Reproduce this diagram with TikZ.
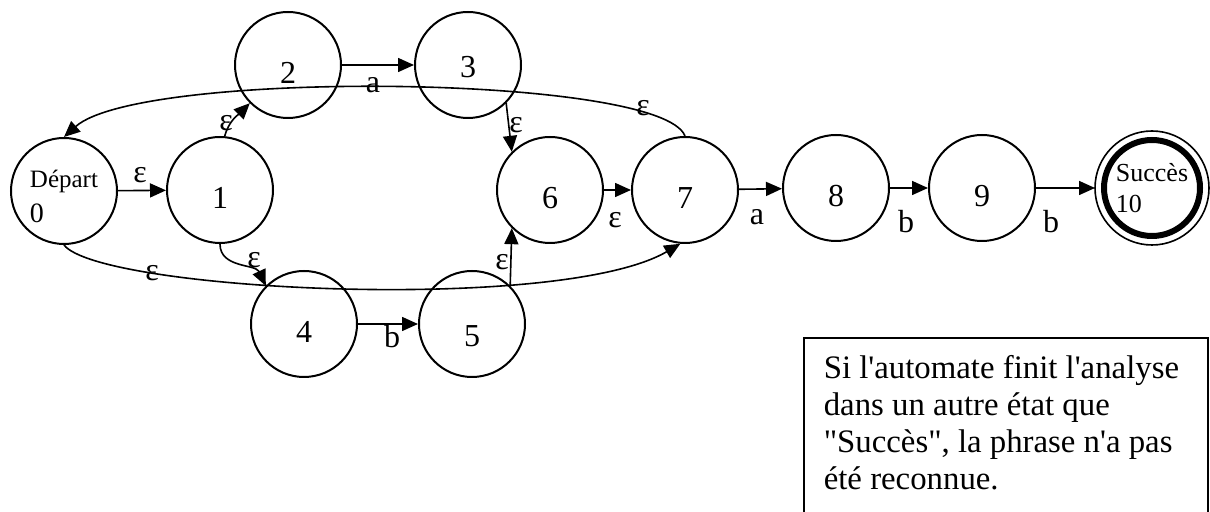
\documentclass[tikz,border=0pt]{standalone}
\usepackage{fontspec}
\setmainfont{Liberation Serif}[Ligatures=TeXOff]
\usetikzlibrary{arrows.meta}

\begin{document}
\begin{tikzpicture}[
  x=0.5pt, y=0.5pt,
  circ/.style={draw, circle, line width=1pt, minimum size=53pt, inner sep=0pt},
  state/.style={circ, font=\fontsize{16}{19}\selectfont, text height=18.5pt, text depth=0pt},
  start/.style={circ, align=left, font=\fontsize{12.5}{17.25}\selectfont},
  final/.style={draw, circle, line width=3pt, minimum size=48pt, inner sep=0pt, outer sep=4.5pt,
    align=left, font=\fontsize{13}{15.15}\selectfont},
  ring/.style={line width=0.8pt},
  lbl/.style={inner sep=0pt, font=\fontsize{16}{19}\selectfont},
  note/.style={draw, line width=0.8pt, anchor=north west, text width=182pt, inner xsep=10pt,
    inner ysep=9pt, align=flush left, font=\fontsize{16.4}{18.5}\selectfont},
  arr/.style={-{Triangle[length=8pt, width=7pt]}, line width=0.8pt}]
\useasboundingbox (0,0) rectangle (1210,-512);

% states
\node[start] (n0) at (64,-191) {\rule{0pt}{14pt}Départ\\{\fontsize{14}{17}\selectfont 0}};
\node[state] (n1) at (220,-190) {1};
\node[state] (n2) at (288,-65) {2};
\node[state, text height=12.8pt] (n3) at (468,-65) {3};
\node[state] (n4) at (304,-324) {4};
\node[state, text height=22.8pt] (n5) at (472,-324) {5};
\node[state] (n6) at (550,-190) {6};
\node[state] (n7) at (685,-190) {7};
\node[state] (n8) at (836,-188) {8};
\node[state] (n9) at (982,-188) {9};
\node[final] (n10) at (1152,-188) {Succès\\10};
\draw[ring] (n10.center) circle[radius=57];

% transitions
\draw[arr] (n0) -- (n1);
\draw[arr] (n1.85) to[out=75, in=225] (n2.225);
\draw[arr] (n1.270) to[out=-90, in=115] (n4.135);
\draw[arr] (n2) -- (n3);
\draw[arr] (n4) -- (n5);
\draw[arr] (n3.315) -- (n6.135);
\draw[arr] (n5.45) -- (n6.225);
\draw[arr] (n6) -- (n7);
\draw[arr] (n7.90) .. controls +(-24,62) and +(76,68) .. (n0.90);
\draw[arr] (n0.270) .. controls +(36,-46) and +(-120,-70) .. (n7.265);
\draw[arr] (n7) -- (n8);
\draw[arr] (n8) -- (n9);
\draw[arr] (n9) -- (n10);

% labels
\node[lbl] (e01) at (140,-175) {ε};
\node[lbl] (e12) at (226,-123) {ε};
\node[lbl] (a23) at (373,-85) {a};
\node[lbl] (e36) at (516,-125) {ε};
\node[lbl] (e70) at (643,-108) {ε};
\node[lbl] (e67) at (615,-220) {ε};
\node[lbl] (e07) at (152,-273) {ε};
\node[lbl] (e14) at (254,-260) {ε};
\node[lbl] (b45) at (392,-337) {b};
\node[lbl] (e56) at (502,-262) {ε};
\node[lbl] (a78) at (757,-217) {a};
\node[lbl] (b89) at (906,-222) {b};
\node[lbl] (b910) at (1051,-222) {b};

\node[note] (note) at (803,-337) {Si l'automate finit l'analyse\\dans un autre état que\\"Succès", la phrase n'a pas\\été reconnue.\\~};
\end{tikzpicture}
\end{document}
